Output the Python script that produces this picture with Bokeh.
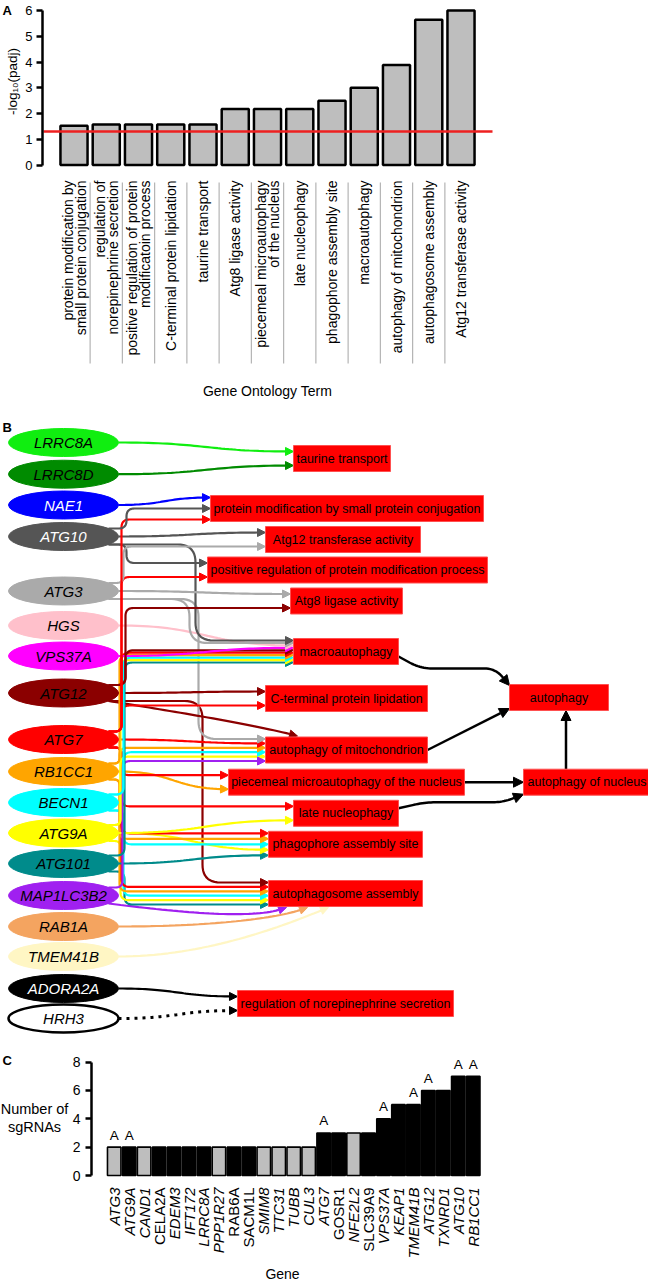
import numpy as np
from bokeh.plotting import figure
from bokeh.layouts import column
from bokeh.models import Range1d, FixedTicker
from bokeh.core.properties import value
from bokeh.embed import file_html
from bokeh.resources import INLINE

FONT = "Liberation Sans"
NARROW = "Liberation Sans Narrow, Arial Narrow, Liberation Sans"

# ============================ DATA ============================
# --- Panel A: GO term enrichment (-log10 adjusted p)
go_term_lines = [
    ["protein modification by", "small protein conjugation"],
    ["regulation of", "norepinephrine secretion"],
    ["positive regulation of protein", "modificatoin process"],
    ["C-terminal protein lipidation"],
    ["taurine transport"],
    ["Atg8 ligase activity"],
    ["piecemeal microautophagy", "of the nucleus"],
    ["late nucleophagy"],
    ["phagophore assembly site"],
    ["macroautophagy"],
    ["autophagy of mitochondrion"],
    ["autophagosome assembly"],
    ["Atg12 transferase activity"],
]
go_neglog10_padj = [1.52, 1.57, 1.57, 1.57, 1.57, 2.17, 2.17, 2.17, 2.50, 3.00, 3.88, 5.64, 6.00]
go_y_ticks = [0, 1, 2, 3, 4, 5, 6]
padj_threshold = 0.05

# --- Panel B: gene -> GO term network
net_genes = ["LRRC8A", "LRRC8D", "NAE1", "ATG10", "ATG3", "HGS", "VPS37A", "ATG12", "ATG7",
             "RB1CC1", "BECN1", "ATG9A", "ATG101", "MAP1LC3B2", "RAB1A", "TMEM41B", "ADORA2A", "HRH3"]
net_gene_colors = ["#10ee10", "#008b00", "#0000ff", "#555555", "#aaaaaa", "#ffc0cb", "#ff00ff", "#8b0000",
                   "#ff0000", "#ffa500", "#00ffff", "#ffff00", "#008b8b", "#a020f0", "#f4a460", "#fff6c4",
                   "#000000", "#ffffff"]
net_gene_text_colors = ["black", "black", "white", "white", "black", "black", "black", "black", "black",
                        "black", "black", "black", "black", "black", "black", "black", "white", "black"]
net_terms = ["taurine transport", "protein modification by small protein conjugation",
             "Atg12 transferase activity", "positive regulation of protein modification process",
             "Atg8 ligase activity", "macroautophagy", "C-terminal protein lipidation", "autophagy",
             "autophagy of mitochondrion", "piecemeal microautophagy of the nucleus", "autophagy of nucleus",
             "late nucleophagy", "phagophore assembly site", "autophagosome assembly",
             "regulation of norepinephrine secretion"]
gene_term_links = [
    ("LRRC8A", "taurine transport"), ("LRRC8D", "taurine transport"),
    ("NAE1", "protein modification by small protein conjugation"),
    ("ATG10", "protein modification by small protein conjugation"),
    ("ATG7", "protein modification by small protein conjugation"),
    ("ATG10", "Atg12 transferase activity"), ("ATG3", "Atg12 transferase activity"),
    ("ATG10", "positive regulation of protein modification process"),
    ("ATG7", "positive regulation of protein modification process"),
    ("ATG3", "Atg8 ligase activity"), ("ATG12", "Atg8 ligase activity"),
    ("ATG10", "macroautophagy"), ("ATG3", "macroautophagy"), ("HGS", "macroautophagy"),
    ("VPS37A", "macroautophagy"), ("ATG12", "macroautophagy"), ("ATG7", "macroautophagy"),
    ("RB1CC1", "macroautophagy"), ("BECN1", "macroautophagy"), ("ATG9A", "macroautophagy"),
    ("ATG101", "macroautophagy"),
    ("ATG12", "C-terminal protein lipidation"), ("ATG7", "C-terminal protein lipidation"),
    ("ATG12", "autophagy of mitochondrion"), ("ATG3", "autophagy of mitochondrion"),
    ("ATG7", "autophagy of mitochondrion"), ("RB1CC1", "autophagy of mitochondrion"),
    ("BECN1", "autophagy of mitochondrion"), ("MAP1LC3B2", "autophagy of mitochondrion"),
    ("ATG9A", "autophagy of mitochondrion"),
    ("ATG7", "piecemeal microautophagy of the nucleus"), ("RB1CC1", "piecemeal microautophagy of the nucleus"),
    ("ATG7", "late nucleophagy"), ("ATG9A", "late nucleophagy"),
    ("ATG7", "phagophore assembly site"), ("RB1CC1", "phagophore assembly site"),
    ("BECN1", "phagophore assembly site"), ("ATG9A", "phagophore assembly site"),
    ("ATG101", "phagophore assembly site"),
    ("ATG12", "autophagosome assembly"), ("ATG7", "autophagosome assembly"),
    ("RB1CC1", "autophagosome assembly"), ("BECN1", "autophagosome assembly"),
    ("ATG9A", "autophagosome assembly"), ("ATG101", "autophagosome assembly"),
    ("MAP1LC3B2", "autophagosome assembly"), ("RAB1A", "autophagosome assembly"),
    ("TMEM41B", "autophagosome assembly"),
    ("ADORA2A", "regulation of norepinephrine secretion"),
    ("HRH3", "regulation of norepinephrine secretion"),
]
dotted_links = [("HRH3", "regulation of norepinephrine secretion")]
term_term_links = [
    ("macroautophagy", "autophagy"),
    ("autophagy of mitochondrion", "autophagy"),
    ("piecemeal microautophagy of the nucleus", "autophagy of nucleus"),
    ("late nucleophagy", "autophagy of nucleus"),
    ("autophagy of nucleus", "autophagy"),
]

# --- Panel C: number of sgRNAs per gene
screen_genes = ["ATG3", "ATG9A", "CAND1", "CELA2A", "EDEM3", "IFT172", "LRRC8A", "PPP1R27", "RAB6A",
                "SACM1L", "SMIM8", "TTC31", "TUBB", "CUL3", "ATG7", "GOSR1", "NFE2L2", "SLC39A9",
                "VPS37A", "KEAP1", "TMEM41B", "ATG12", "TXNRD1", "ATG10", "RB1CC1"]
screen_sgrnas = [2, 2, 2, 2, 2, 2, 2, 2, 2, 2, 2, 2, 2, 2, 3, 3, 3, 3, 4, 5, 5, 6, 6, 7, 7]
gray_bar_genes = ["ATG3", "CAND1", "PPP1R27", "SMIM8", "TTC31", "TUBB", "CUL3", "NFE2L2"]
autophagy_genes = ["ATG3", "ATG9A", "ATG7", "VPS37A", "TMEM41B", "ATG12", "ATG10", "RB1CC1"]
upright_label_genes = ["CELA2A", "RAB6A", "SACM1L", "GOSR1", "SLC39A9"]
c_y_ticks = [0, 2, 4, 6, 8]

PAGE_L, PAGE_R, W = 0, 648, 648


def style_yaxis(axis, ticks, bounds, size, loc, standoff):
    axis.fixed_location = loc
    axis.ticker = FixedTicker(ticks=ticks)
    axis.bounds = bounds
    axis.axis_line_width = 2.5
    axis.axis_line_color = "black"
    axis.major_tick_line_width = 2.5
    axis.major_tick_line_color = "black"
    axis.major_tick_out = 6
    axis.major_tick_in = 0
    axis.minor_tick_line_color = None
    axis.major_label_text_font = FONT
    axis.major_label_text_font_size = size
    axis.major_label_text_color = "black"
    axis.major_label_standoff = standoff


def txt(p, x, y, text, size, font=FONT, **kw):
    opts = dict(text_align="center", text_baseline="middle", text_color="black")
    opts.update(kw)
    p.text(x=x, y=y, text=text, text_font=value(font), text_font_size=size, **opts)


# ============================ PANEL A ============================
A_TOP, A_BOT = 0, 400
A_Y0, A_KY = 164.5, 25.75          # page y of value 0, px per unit
A_X0, A_PITCH = 73.5, 32.25        # page x of first bar centre, px per bar
A_AXIS_X, A_LINE_END = 42, 492


def ax(px):
    return (px - A_X0) / A_PITCH


def ay(py):
    return (A_Y0 - py) / A_KY


pA = figure(width=W, height=A_BOT - A_TOP,
            x_range=Range1d(ax(PAGE_L), ax(PAGE_R)), y_range=Range1d(ay(A_BOT), ay(A_TOP)),
            x_axis_type=None, toolbar_location=None, output_backend="svg",
            min_border=0, outline_line_color=None)
pA.grid.visible = False
style_yaxis(pA.yaxis[0], go_y_ticks, (0, 6), "13px", ax(A_AXIS_X), 4)

n_go = len(go_neglog10_padj)
sep_x = [i + 0.5 for i in range(n_go - 1)]
pA.segment(x0=sep_x, y0=ay(182), x1=sep_x, y1=ay(363), line_color="#b4b4b4", line_width=1.2)
pA.vbar(x=list(range(n_go)), top=go_neglog10_padj, bottom=0, width=0.84,
        fill_color="#bebebe", line_color="black", line_width=2.5)
cut = -np.log10(padj_threshold)
pA.segment(x0=[ax(A_AXIS_X + 1)], y0=[cut], x1=[ax(A_LINE_END)], y1=[cut],
           line_color="#ee2020", line_width=2.5)

lx, lt = [], []
for i, lines in enumerate(go_term_lines):
    k = len(lines)
    for j, t in enumerate(lines):
        lx.append(i + (j - (k - 1) / 2) * 13 / A_PITCH)
        lt.append(t)
txt(pA, lx, [ay(180)] * len(lx), lt, "14px", angle=np.pi / 2, text_align="right")
txt(pA, [(n_go - 1) / 2], [ay(390)], ["Gene Ontology Term"], "14px", font=NARROW)
txt(pA, [ax(12)], [ay(81)], ["-log\u2081\u2080(padj)"], "13.5px", angle=np.pi / 2)
txt(pA, [ax(2)], [ay(10)], ["A"], "13px", text_align="left", text_font_style="bold")

# ============================ PANEL B ============================
B_TOP, B_BOT = 400, 1040
gene_y = [442, 473.7, 504.5, 536, 590.5, 625, 655.5, 692.5, 739, 771, 802, 832.5, 863, 895, 926, 956,
          988, 1018]
GENE_CX, GENE_W, GENE_H = 63, 110, 28
term_layout = {  # left, right, centre y
    "taurine transport": (293, 390, 458),
    "protein modification by small protein conjugation": (210, 483, 508),
    "Atg12 transferase activity": (265, 420, 539),
    "positive regulation of protein modification process": (207, 487, 569.5),
    "Atg8 ligase activity": (290, 402, 600.5),
    "macroautophagy": (293, 398, 651),
    "C-terminal protein lipidation": (265, 427, 698),
    "autophagy": (509, 608, 697),
    "autophagy of mitochondrion": (265, 427, 749.5),
    "piecemeal microautophagy of the nucleus": (228, 464, 781.7),
    "autophagy of nucleus": (523, 650, 781.7),
    "late nucleophagy": (293, 398, 812.8),
    "phagophore assembly site": (268, 422, 843.8),
    "autophagosome assembly": (268, 422, 893),
    "regulation of norepinephrine secretion": (237, 453, 1003),
}
BOX_H = 26
bundle_x = {"ATG10": 126, "ATG3": 123, "ATG12": 125, "ATG7": 121, "RB1CC1": 119, "BECN1": 123,
            "ATG9A": 120, "ATG101": 124, "MAP1LC3B2": 122}
route_x = {("ATG10", "macroautophagy"): 195, ("ATG3", "macroautophagy"): 189,
           ("ATG3", "autophagy of mitochondrion"): 198, ("ATG12", "autophagosome assembly"): 202}
free_arrivals = {("ATG12", "autophagy of mitochondrion"): ("top", 32),
                 ("MAP1LC3B2", "autophagosome assembly"): ("bottom", 18),
                 ("RAB1A", "autophagosome assembly"): ("bottom", 39),
                 ("TMEM41B", "autophagosome assembly"): ("bottom", 60)}
term_edge_style = {("macroautophagy", "autophagy"): "over",
                   ("autophagy of mitochondrion", "autophagy"): "straight",
                   ("piecemeal microautophagy of the nucleus", "autophagy of nucleus"): "straight",
                   ("late nucleophagy", "autophagy of nucleus"): "under",
                   ("autophagy of nucleus", "autophagy"): "vertical"}


def cubic(p0, c1, c2, p1, n=40):
    t = np.linspace(0, 1, n)[:, None]
    p0, c1, c2, p1 = (np.array(v, float) for v in (p0, c1, c2, p1))
    return (1 - t) ** 3 * p0 + 3 * (1 - t) ** 2 * t * c1 + 3 * (1 - t) * t ** 2 * c2 + t ** 3 * p1


def rounded(pts, r, n=12):
    pts = [np.array(p, float) for p in pts]
    out = [pts[0]]
    for i in range(1, len(pts) - 1):
        P, V, N = pts[i - 1], pts[i], pts[i + 1]
        d1, d2 = np.linalg.norm(P - V), np.linalg.norm(N - V)
        if d1 < 1e-6 or d2 < 1e-6:
            out.append(V)
            continue
        rr = min(r, d1 / 2, d2 / 2)
        A = V + (P - V) / d1 * rr
        B = V + (N - V) / d2 * rr
        t = np.linspace(0, 1, n)[:, None]
        out.extend(list((1 - t) ** 2 * A + 2 * (1 - t) * t * V + t ** 2 * B))
    out.append(pts[-1])
    return np.array(out)


def finish(path, L, w):
    path = np.asarray(path, float)
    tip = path[-1]
    d = np.linalg.norm(path - tip, axis=1)
    idx = np.where(d >= L)[0]
    last = idx[-1] if len(idx) else 0
    u = tip - path[last]
    u = u / np.linalg.norm(u)
    base = tip - u * L
    line = np.vstack([path[:last + 1], base])
    perp = np.array([-u[1], u[0]])
    head = np.array([tip, base + perp * w, base - perp * w])
    return line, head


gy_of = dict(zip(net_genes, gene_y))
col_of = dict(zip(net_genes, net_gene_colors))

incoming = {}
for g, t in gene_term_links:
    incoming.setdefault(t, []).append(g)
lane = {}
for t, gs in incoming.items():
    gl = sorted([g for g in gs if (g, t) not in free_arrivals], key=lambda g: gy_of[g])
    n = len(gl)
    s = min(14, 22 / (n - 1)) if n > 1 else 0
    cyt = term_layout[t][2]
    for k, g in enumerate(gl):
        lane[(g, t)] = cyt + (k - (n - 1) / 2) * s

e_xs, e_ys, e_col, h_xs, h_ys, h_col = [], [], [], [], [], []
d_xs, d_ys = [], []
for g, t in reversed(gene_term_links):
    gy = gy_of[g]
    l, r, cyt = term_layout[t]
    if (g, t) in free_arrivals:
        side, dx = free_arrivals[(g, t)]
        if side == "bottom":
            tip = (l + dx, cyt + BOX_H / 2 + 1)
            if gy < tip[1]:
                p0 = (GENE_CX + 45, gy + 8)
                c1 = (p0[0] + 0.45 * (tip[0] - p0[0]), p0[1] + 10)
            else:
                p0 = (GENE_CX + GENE_W / 2, gy)
                c1 = (p0[0] + 0.45 * (tip[0] - p0[0]), p0[1])
            c2 = (tip[0] - 30, tip[1] + 12)
        else:
            tip = (l + dx, cyt - BOX_H / 2 - 1)
            p0 = (GENE_CX + 45, gy + 8)
            c1 = (p0[0] + 50, p0[1] + 8)
            c2 = (tip[0] - 45, tip[1] - 12)
        path = cubic(p0, c1, c2, tip)
    else:
        ly = lane[(g, t)]
        tip = (l, ly)
        if abs(ly - gy) <= 20:
            p0 = (GENE_CX + GENE_W / 2, gy)
            dx = tip[0] - p0[0]
            path = cubic(p0, (p0[0] + 0.5 * dx, p0[1]), (tip[0] - 0.5 * dx, tip[1]), tip)
        else:
            s = -1 if ly < gy else 1
            p0 = (GENE_CX + 45, gy + s * 8)
            xb = route_x.get((g, t), bundle_x.get(g, 122))
            rad = 18 if (g, t) in route_x else 8
            path = rounded([p0, (xb, p0[1]), (xb, ly), tip], rad)
    line, head = finish(path, 8, 4)
    c = "#000000" if g in ("ADORA2A", "HRH3") else col_of[g]
    if (g, t) in dotted_links:
        d_xs.append(list(line[:, 0]))
        d_ys.append(list(-line[:, 1]))
    else:
        e_xs.append(list(line[:, 0]))
        e_ys.append(list(-line[:, 1]))
        e_col.append(c)
    h_col.append(c)
    h_xs.append(list(head[:, 0]))
    h_ys.append(list(-head[:, 1]))


def term_edge_path(s, t, style):
    sl, sr, scy = term_layout[s]
    tl, tr, tcy = term_layout[t]
    h = BOX_H / 2
    if style == "straight":
        if abs(scy - tcy) < 3:
            return np.array([(sr, scy), (tl, tcy)])
        return np.array([(sr, scy), (tl, tcy + h - 2)])
    if style == "over":
        ym = scy + 17
        return rounded([(sr, scy + 5), (sr + 22, ym), (tl - 14, ym), (tl, tcy - h + 1)], 12)
    if style == "under":
        ym = tcy + h + 7
        return rounded([(sr, scy - 5), (sr + 27, ym), (tl - 20, ym), (tl, tcy + h - 1)], 12)
    x = (max(sl, tl) + min(sr, tr)) / 2
    return np.array([(x, scy - h), (x, tcy + h)])


k_xs, k_ys, kh_xs, kh_ys = [], [], [], []
for s, t in term_term_links:
    line, head = finish(term_edge_path(s, t, term_edge_style[(s, t)]), 10, 5)
    k_xs.append(list(line[:, 0]))
    k_ys.append(list(-line[:, 1]))
    kh_xs.append(list(head[:, 0]))
    kh_ys.append(list(-head[:, 1]))

pB = figure(width=W, height=B_BOT - B_TOP, x_range=Range1d(PAGE_L, PAGE_R), y_range=Range1d(-B_BOT, -B_TOP),
            x_axis_type=None, y_axis_type=None, toolbar_location=None, output_backend="svg",
            min_border=0, outline_line_color=None)
pB.multi_line(xs=e_xs, ys=e_ys, line_color=e_col, line_width=2.2)
pB.multi_line(xs=d_xs, ys=d_ys, line_color="black", line_width=3, line_dash="3 5")
pB.patches(xs=h_xs, ys=h_ys, fill_color=h_col, line_color=h_col, line_width=1)
pB.multi_line(xs=k_xs, ys=k_ys, line_color="black", line_width=2.5)
pB.patches(xs=kh_xs, ys=kh_ys, fill_color="black", line_color="black", line_width=1)

pB.ellipse(x=[GENE_CX] * len(net_genes), y=[-v for v in gene_y], width=GENE_W, height=GENE_H,
           fill_color=net_gene_colors,
           line_color=["#000000" if c == "#ffffff" else c for c in net_gene_colors],
           line_width=[2.5 if c == "#ffffff" else 1 for c in net_gene_colors])
txt(pB, [GENE_CX] * len(net_genes), [-v for v in gene_y], net_genes, "15px",
    text_color=net_gene_text_colors, text_font_style="italic")

tl_ = [term_layout[t] for t in net_terms]
pB.quad(left=[v[0] for v in tl_], right=[v[1] for v in tl_], top=[-(v[2] - BOX_H / 2) for v in tl_],
        bottom=[-(v[2] + BOX_H / 2) for v in tl_], fill_color="#ff0000", line_color="#ff5050", line_width=1)
txt(pB, [(v[0] + v[1]) / 2 for v in tl_], [-v[2] for v in tl_], net_terms, "12.5px")
txt(pB, [2], [-427], ["B"], "13px", text_align="left", text_font_style="bold")

# ============================ PANEL C ============================
C_TOP, C_BOT = 1040, 1281
C_Y0, C_KY = 1175, 14.17
C_X0, C_PITCH = 113.7, 14.96
C_AXIS_X = 91


def cx(px):
    return (px - C_X0) / C_PITCH


def cy(py):
    return (C_Y0 - py) / C_KY


pC = figure(width=W, height=C_BOT - C_TOP,
            x_range=Range1d(cx(PAGE_L), cx(PAGE_R)), y_range=Range1d(cy(C_BOT), cy(C_TOP)),
            x_axis_type=None, toolbar_location=None, output_backend="svg",
            min_border=0, outline_line_color=None)
pC.grid.visible = False
style_yaxis(pC.yaxis[0], c_y_ticks, (0, 8), "14px", cx(C_AXIS_X), 5)

n_c = len(screen_genes)
pC.vbar(x=list(range(n_c)), top=screen_sgrnas, bottom=0, width=0.9,
        fill_color=["#bebebe" if g in gray_bar_genes else "#000000" for g in screen_genes],
        line_color="black", line_width=1.6)
a_idx = [i for i, g in enumerate(screen_genes) if g in autophagy_genes]
txt(pC, a_idx, [screen_sgrnas[i] + 12 / C_KY for i in a_idx], ["A"] * len(a_idx), "13.5px", font=NARROW)
it_idx = [i for i, g in enumerate(screen_genes) if g not in upright_label_genes]
up_idx = [i for i, g in enumerate(screen_genes) if g in upright_label_genes]
for idx, style in ((it_idx, "italic"), (up_idx, "normal")):
    txt(pC, idx, [cy(1187)] * len(idx), [screen_genes[i] for i in idx], "15px",
        angle=np.pi / 2, text_align="right", text_font_style=style)
txt(pC, [cx(282)], [cy(1273)], ["Gene"], "14px", font=NARROW)
txt(pC, [cx(34), cx(34)], [cy(1108), cy(1126)], ["Number of", "sgRNAs"], "14.5px", font=NARROW)
txt(pC, [cx(2)], [cy(1060)], ["C"], "13px", text_align="left", text_font_style="bold")

layout = column(pA, pB, pC)
open("out.html", "w").write(file_html(layout, INLINE))
